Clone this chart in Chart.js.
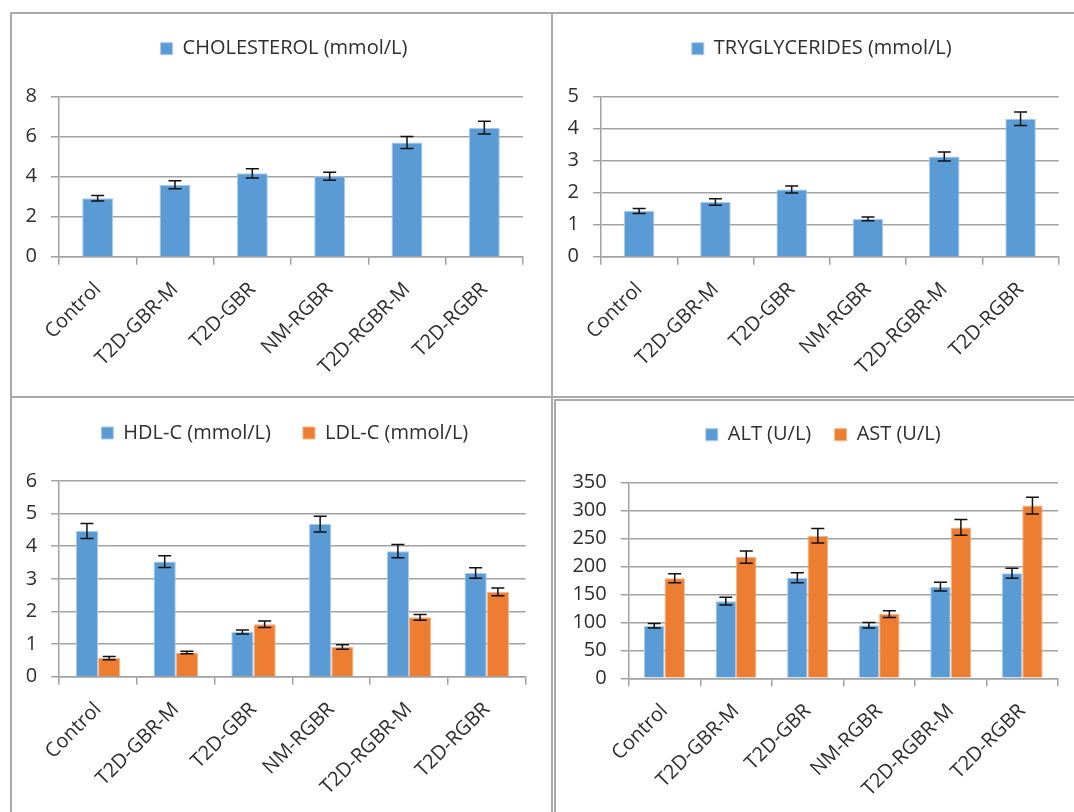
<!DOCTYPE html>
<html>
<head>
<meta charset="utf-8">
<script src="https://cdn.jsdelivr.net/npm/chart.js@4.4.1/dist/chart.umd.min.js"></script>
<style>
  body { margin: 0; background: #fff; }
  #page { position: relative; width: 1074px; height: 812px; overflow: hidden; }
  #page canvas { position: absolute; }
  .frame { position: absolute; background: #a9a9a9; }
</style>
</head>
<body>
<div id="page">
  <div class="frame" style="left:10px; top:12px; width:1064px; height:2px"></div>
  <div class="frame" style="left:10px; top:12px; width:2px; height:800px"></div>
  <div class="frame" style="left:551px; top:12px; width:2px; height:800px"></div>
  <div class="frame" style="left:10px; top:396px; width:1064px; height:2px"></div>
  <div class="frame" style="left:554px; top:399px; width:520px; height:2px"></div>
  <div class="frame" style="left:554px; top:399px; width:2px; height:413px"></div>

  <canvas id="chol-chart" width="560" height="382" style="left:11px; top:14px"></canvas>
  <canvas id="tg-chart" width="560" height="382" style="left:553px; top:14px"></canvas>
  <canvas id="hdl-chart" width="560" height="422" style="left:11px; top:390px"></canvas>
  <canvas id="liver-chart" width="560" height="422" style="left:555px; top:390px"></canvas>
</div>

<script>
var categories = ['Control', 'T2D-GBR-M', 'T2D-GBR', 'NM-RGBR', 'T2D-RGBR-M', 'T2D-RGBR'];

var cholesterol = [2.92, 3.60, 4.17, 4.02, 5.71, 6.45];
var cholesterol_err = [0.14, 0.20, 0.23, 0.20, 0.30, 0.32];

var triglycerides = [1.43, 1.71, 2.10, 1.18, 3.13, 4.31];
var triglycerides_err = [0.08, 0.10, 0.11, 0.06, 0.14, 0.21];

var hdl = [4.47, 3.53, 1.37, 4.68, 3.85, 3.18];
var hdl_err = [0.23, 0.18, 0.06, 0.24, 0.20, 0.16];
var ldl = [0.57, 0.74, 1.61, 0.91, 1.82, 2.60];
var ldl_err = [0.05, 0.04, 0.10, 0.07, 0.09, 0.12];

var alt = [94, 138, 180, 95, 164, 188];
var alt_err = [4, 7, 9, 5, 8, 9];
var ast = [179, 217, 255, 115, 270, 309];
var ast_err = [8, 11, 13, 6, 14, 15];

// y axis ranges: [max, step] for each panel
var chol_axis = [8, 2];
var tg_axis = [5, 1];
var hdl_axis = [6, 1];
var liver_axis = [350, 50];

var blue = '#5b9bd5';
var orange = '#ed7d31';
var text_color = '#2e2e2e';
var grid_color = '#a2a2a2';
var font_family = '"Open Sans", sans-serif';

// black whiskers with caps, drawn from each dataset's err array
var error_bars = {
  id: 'error_bars',
  afterDatasetsDraw: function(chart) {
    var ctx = chart.ctx;
    var y_scale = chart.scales.y;
    ctx.save();
    ctx.strokeStyle = '#111';
    ctx.lineWidth = 1.5;
    chart.data.datasets.forEach(function(ds, i) {
      chart.getDatasetMeta(i).data.forEach(function(bar, j) {
        var hi = y_scale.getPixelForValue(ds.data[j] + ds.err[j]);
        var lo = y_scale.getPixelForValue(ds.data[j] - ds.err[j]);
        ctx.beginPath();
        ctx.moveTo(bar.x, hi);
        ctx.lineTo(bar.x, lo);
        ctx.moveTo(bar.x - 6.5, hi);
        ctx.lineTo(bar.x + 6.5, hi);
        ctx.moveTo(bar.x - 6.5, lo);
        ctx.lineTo(bar.x + 6.5, lo);
        ctx.stroke();
      });
    });
    ctx.restore();
  }
};

// extra room under the legend before the plot starts
var legend_gap = {
  id: 'legend_gap',
  beforeInit: function(chart) {
    var fit = chart.legend.fit;
    chart.legend.fit = function() {
      fit.call(this);
      this.height += 28;
    };
  }
};

function bar_set(label, values, errs, color, edge) {
  return {
    label: label,
    data: values,
    err: errs,
    backgroundColor: color,
    borderColor: edge,
    borderWidth: 1
  };
}

// box: legend padding / spacing, and where the plot sits inside the canvas
function add_graph(id, datasets, axis, box) {
  var group = datasets.length == 1 ? 0.4 : 0.572;
  datasets.forEach(function(ds) {
    ds.categoryPercentage = group;
    ds.barPercentage = 1;
  });

  return new Chart(document.getElementById(id), {
    type: 'bar',
    data: {
      labels: categories,
      datasets: datasets
    },
    options: {
      responsive: false,
      animation: false,
      devicePixelRatio: 1,
      layout: {
        padding: box.padding
      },
      plugins: {
        legend: {
          display: true,
          position: 'top',
          labels: {
            boxWidth: 12,
            boxHeight: 12,
            padding: box.legend_padding,
            color: text_color,
            font: { family: font_family, size: 20 }
          }
        },
        tooltip: { enabled: false }
      },
      scales: {
        x: {
          grid: {
            drawOnChartArea: false,
            drawTicks: true,
            tickLength: 8,
            color: grid_color,
            lineWidth: 1.5
          },
          border: { color: grid_color, width: 1.5 },
          ticks: {
            color: text_color,
            font: { family: font_family, size: 20 },
            minRotation: 45,
            maxRotation: 45,
            padding: 13,
            autoSkip: false
          },
          afterFit: function(scale) {
            scale.height = 130;
            scale.paddingLeft = box.plot_left;
            scale.paddingRight = box.plot_right;
          }
        },
        y: {
          min: 0,
          max: axis[0],
          grid: {
            color: grid_color,
            lineWidth: 1.5,
            tickLength: 8
          },
          border: { color: grid_color, width: 1.5 },
          ticks: {
            stepSize: axis[1],
            color: text_color,
            font: { family: font_family, size: 20 },
            padding: 14
          },
          afterFit: function(scale) {
            scale.width = box.plot_left;
          }
        }
      }
    },
    plugins: [error_bars, legend_gap]
  });
}

add_graph('chol-chart',
  [bar_set('CHOLESTEROL (mmol/L)', cholesterol, cholesterol_err, blue, '#a9cbeb')],
  chol_axis,
  { padding: { left: 0, right: 14, top: 14.7, bottom: 9.3 }, plot_left: 48, plot_right: 48, legend_padding: 10 });

add_graph('tg-chart',
  [bar_set('TRYGLYCERIDES (mmol/L)', triglycerides, triglycerides_err, blue, '#a9cbeb')],
  tg_axis,
  { padding: { left: 0, right: 22.6, top: 14.7, bottom: 9.3 }, plot_left: 48, plot_right: 54.3, legend_padding: 10 });

add_graph('hdl-chart',
  [bar_set('HDL-C (mmol/L)', hdl, hdl_err, blue, '#a9cbeb'),
   bar_set('LDL-C (mmol/L)', ldl, ldl_err, orange, '#f5b48a')],
  hdl_axis,
  { padding: { left: 0, right: 12.4, top: 1, bottom: 5.3 }, plot_left: 48.2, plot_right: 45.4, legend_padding: 32 });

add_graph('liver-chart',
  [bar_set('ALT (U/L)', alt, alt_err, blue, '#a9cbeb'),
   bar_set('AST (U/L)', ast, ast_err, orange, '#f5b48a')],
  liver_axis,
  { padding: { left: 0, right: 23.6, top: 11.3, bottom: 3.7 }, plot_left: 73.7, plot_right: 57, legend_padding: 23.4 });
</script>
</body>
</html>
